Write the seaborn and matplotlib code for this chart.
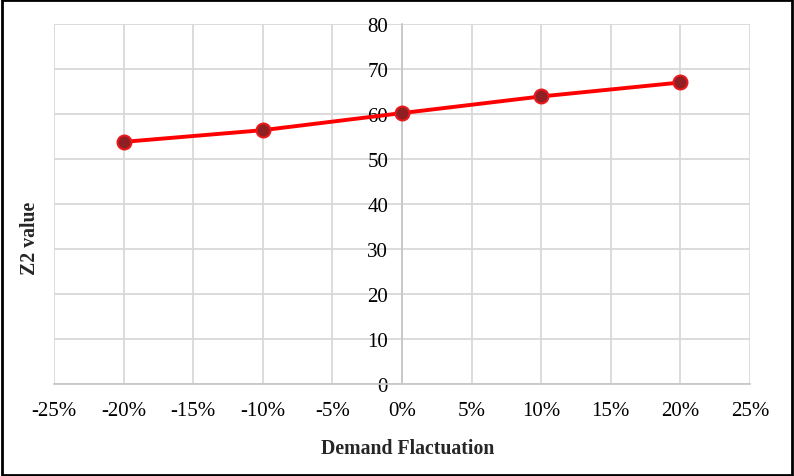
import numpy as np
import pandas as pd
import matplotlib
matplotlib.use("Agg")
import matplotlib.pyplot as plt
import seaborn as sns
from matplotlib.ticker import FuncFormatter
from matplotlib.patches import Rectangle

# demand fluctuation (%) vs Z2 value
fluctuation = [-0.20, -0.10, 0.0, 0.10, 0.20]
z2_value = [53.8, 56.4, 60.2, 63.9, 67.0]
x_ticks = [-0.25, -0.20, -0.15, -0.10, -0.05, 0.0, 0.05, 0.10, 0.15, 0.20, 0.25]
y_ticks = [0, 10, 20, 30, 40, 50, 60, 70, 80]

df = pd.DataFrame({"fluct": fluctuation, "z2": z2_value})

sns.set_style("whitegrid")
plt.rcParams['font.family'] = ['Liberation Serif', 'DejaVu Serif']

fig = plt.figure(figsize=(7.94, 4.77), dpi=100)
ax = fig.add_axes([0.068, 0.193, 0.8766, 0.7546])

sns.lineplot(data=df, x="fluct", y="z2", ax=ax, color="#ff0000", linewidth=2.8,
             marker="o", markersize=10, markerfacecolor="#8e2024",
             markeredgecolor="#e8181c", markeredgewidth=1.5, zorder=3)

ax.set_xlim(-0.25, 0.25)
ax.set_ylim(0, 80)
ax.set_xticks(x_ticks)
ax.set_yticks(y_ticks)
ax.xaxis.set_major_formatter(FuncFormatter(lambda v, p: "{:.0f}%".format(round(v * 100))))
ax.grid(True, color="#d9d9d9", linewidth=1.3)
ax.set_axisbelow(True)

for s in ["top", "right"]:
    ax.spines[s].set_visible(False)
ax.spines["left"].set_position(("data", 0))
ax.spines["left"].set_color("#c8c8c8")
ax.spines["left"].set_linewidth(1.3)
ax.spines["bottom"].set_color("#c8c8c8")
ax.spines["bottom"].set_linewidth(1.3)

ax.tick_params(axis="both", length=0, labelsize=15, colors="black")
ax.tick_params(axis="x", pad=12)
ax.tick_params(axis="y", pad=10)

ax.set_xlabel("")
ax.set_ylabel("")
fig.text(0.514, 0.058, "Demand Flactuation", ha="center", va="center",
         fontsize=14.2, fontweight="bold")
fig.text(0.038, 0.50, "Z2 value", ha="center", va="center", rotation=90,
         fontsize=14.2, fontweight="bold")

fig.patches.append(Rectangle((0.002, 0.003), 0.996, 0.994, transform=fig.transFigure,
                             fill=False, edgecolor="black", linewidth=2))

fig.savefig("out.png", dpi=100)
